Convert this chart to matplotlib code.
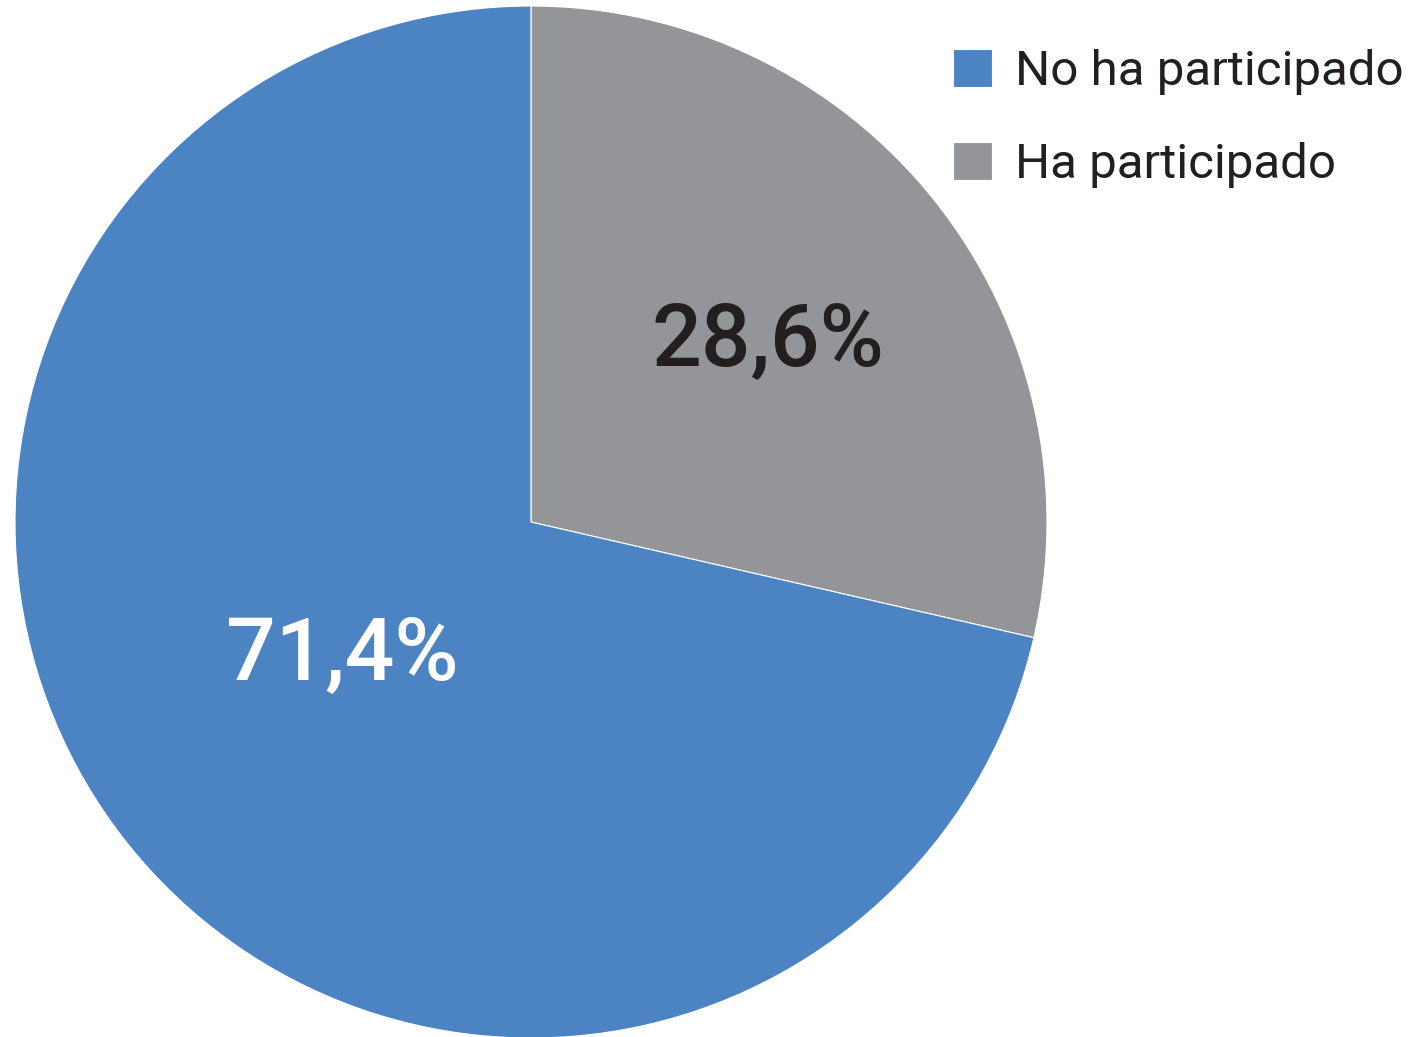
import matplotlib.pyplot as plt

plt.rcParams['font.family'] = ['Roboto', 'DejaVu Sans']

labels = ['No ha participado', 'Ha participado']
values = [71.4, 28.6]
pct_text = ['71,4%', '28,6%']
colors = ['#4c84c3', '#939598']
text_colors = ['white', '#231f20']
# label spots in units of the pie radius
label_xy = [(-0.366, -0.259), (0.459, 0.349)]

fig = plt.figure(figsize=(14.2, 10.37), dpi=100)
ax = fig.add_axes([15 / 1420, -1 / 1037, 1032 / 1420, 1032 / 1037])

# gray slice starts at 12 o'clock and runs clockwise
wedges, _ = ax.pie(values[::-1], colors=colors[::-1], startangle=90,
                   counterclock=False, radius=1,
                   wedgeprops=dict(linewidth=0.8, edgecolor='white'))
wedges = wedges[::-1]

for (x, y), txt, c in zip(label_xy, pct_text, text_colors):
    ax.text(x, y, txt, ha='center', va='center',
            fontsize=63, fontweight='medium', color=c)

ax.set_xlim(-1, 1)
ax.set_ylim(-1, 1)
ax.set_aspect('equal')
ax.axis('off')

leg = fig.legend(wedges, labels, loc='upper left',
                 bbox_to_anchor=(953 / 1420, 1 - 49 / 1037),
                 frameon=False, fontsize=35.5, handlelength=0.8,
                 handleheight=0.8, handletextpad=0.45, labelspacing=0.95,
                 borderpad=0, borderaxespad=0, labelcolor='#231f20')

fig.savefig('out.png', dpi=100)
